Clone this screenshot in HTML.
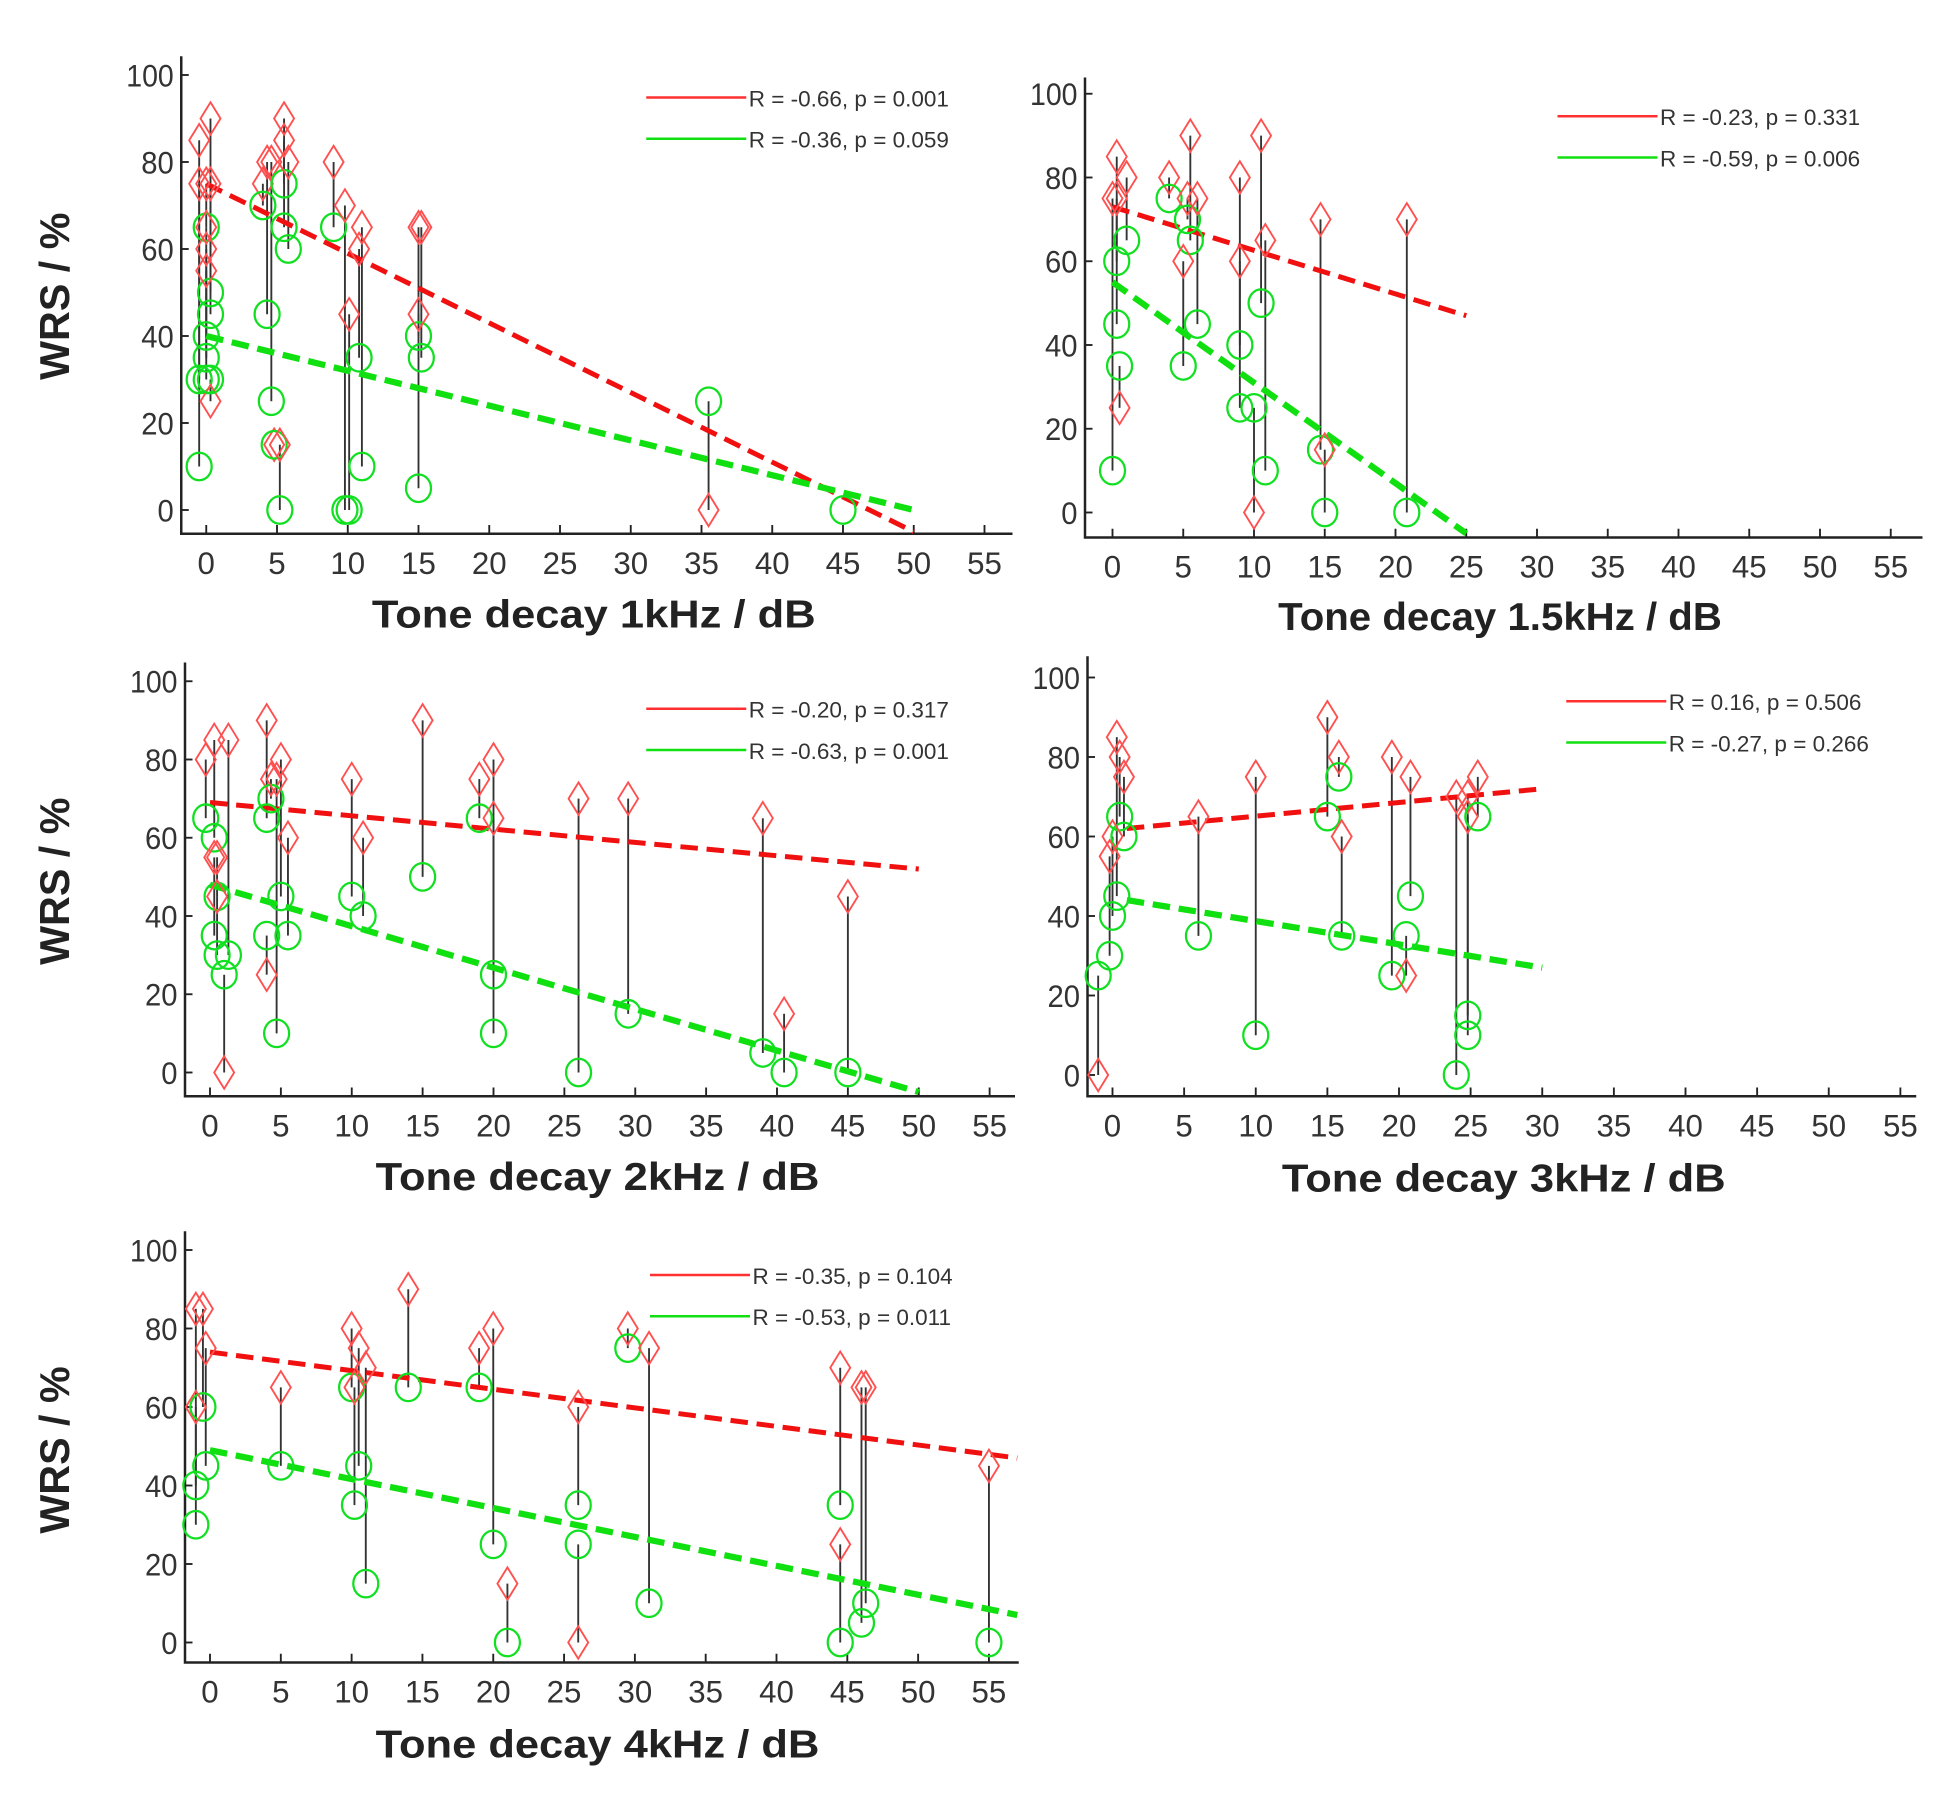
<!DOCTYPE html>
<html><head><meta charset="utf-8"><style>
html,body{margin:0;padding:0;background:#fff}
svg{display:block}
text{font-family:"Liberation Sans",sans-serif}
</style></head><body>
<svg id="chart" width="1960" height="1803" viewBox="0 0 1568 1442.4" xmlns="http://www.w3.org/2000/svg"></svg>
<script>
// ---- data ----
const titles = ["Tone decay 1kHz / dB","Tone decay 1.5kHz / dB","Tone decay 2kHz / dB","Tone decay 3kHz / dB","Tone decay 4kHz / dB"];
const legendRed = ["R = -0.66, p = 0.001","R = -0.23, p = 0.331","R = -0.20, p = 0.317","R = 0.16, p = 0.506","R = -0.35, p = 0.104"];
const legendGreen = ["R = -0.36, p = 0.059","R = -0.59, p = 0.006","R = -0.63, p = 0.001","R = -0.27, p = 0.266","R = -0.53, p = 0.011"];
const xTicks = [0,5,10,15,20,25,30,35,40,45,50,55];
const yTicks = [0,20,40,60,80,100];
// pairs: [tone decay dB, red (diamond) WRS, green (circle) WRS]
const data1k = [[-0.5,85,30],[-0.5,75,10],[0,75,65],[0.3,90,50],[0.3,75,45],[0,65,40],[0,60,35],[0,55,30],[0.3,25,30],[4,75,70],[4.3,80,45],[4.6,80,25],[5.5,90,75],[5.5,85,65],[5.8,80,60],[4.8,15,15],[5.2,15,0],[9,80,65],[9.8,70,0],[10.1,45,0],[10.8,60,35],[11,65,10],[15,65,40],[15.2,65,35],[15,45,5],[35.5,0,25],[45,null,0]];
const data15k = [[0,75,10],[0.3,85,60],[0.3,75,45],[0.5,25,35],[1,80,65],[4,80,75],[5.5,90,65],[5,60,35],[5.3,75,70],[6,75,45],[9,80,40],[9,60,25],[10.5,90,50],[10.8,65,10],[10,0,25],[14.7,70,15],[15,15,0],[20.8,70,0]];
const data2k = [[-0.3,80,65],[0.3,85,60],[0.5,55,45],[0.3,55,35],[0.5,45,30],[1.3,85,30],[1,0,25],[4,90,65],[4.3,75,70],[4,25,35],[5,80,45],[4.7,75,10],[5.5,60,35],[10,75,45],[10.8,60,40],[15,90,50],[19,75,65],[20,80,25],[20,65,10],[26,70,0],[29.5,70,15],[39,65,5],[40.5,15,0],[45,45,0]];
const data3k = [[-1,0,25],[0.3,85,45],[0.5,80,65],[0.8,75,60],[0,60,40],[-0.2,55,30],[6,65,35],[10,75,10],[15,90,65],[15.8,80,75],[16,60,35],[19.5,80,25],[20.8,75,45],[20.5,25,35],[24,70,0],[24.8,70,15],[24.8,65,10],[25.5,75,65]];
const data4k = [[-1,85,40],[-0.5,85,60],[-0.3,75,45],[-1,60,30],[5,65,45],[10,80,65],[10.5,75,45],[11,70,15],[10.2,65,35],[14,90,65],[19,75,65],[20,80,25],[21,15,0],[26,60,35],[26,0,25],[29.5,80,75],[31,75,10],[44.5,70,35],[44.5,25,0],[46,65,5],[46.3,65,10],[55,45,0]];
// regression lines: [xStart, yStart, xEnd, yEnd]
const fitRed = [[0,75,50,-5],[0,73,25,47],[0,69,50,52],[1,62,30,72],[0,74,57,47]];
const fitGreen = [[0,40,50,0],[0,55,25,-5],[0,48,50,-5],[1,44,30,27],[0,49,57,7]];
const allData = [data1k,data15k,data2k,data3k,data4k];

// ---- layout (not data) ----
const layout = [
 {x0:165,dx:11.32,y0:408,dy:3.48,left:145,right:810,top:45,bottom:427,tx:475,ty:502,yl:[55,237],lx:517,ly:78},
 {x0:890,dx:11.32,y0:410,dy:3.35,left:868,right:1538,top:62,bottom:430,tx:1200,ty:504,yl:null,lx:1246,ly:93},
 {x0:168,dx:11.34,y0:858,dy:3.13,left:148,right:812,top:530,bottom:877,tx:478,ty:952,yl:[55,705],lx:517,ly:567},
 {x0:890,dx:11.46,y0:860,dy:3.18,left:870,right:1533,top:525,bottom:877,tx:1203,ty:953,yl:null,lx:1253,ly:561},
 {x0:168,dx:11.33,y0:1314,dy:3.14,left:148,right:815,top:985,bottom:1330,tx:478,ty:1406,yl:[55,1160],lx:520,ly:1020}
];
const NS="http://www.w3.org/2000/svg";
const svg=document.getElementById('chart');
function mk(tag,attrs,parent){const e=document.createElementNS(NS,tag);for(const k in attrs)e.setAttribute(k,attrs[k]);(parent||svg).appendChild(e);return e;}

allData.forEach((pts,i)=>{
 const L=layout[i];
 const X=v=>L.x0+v*L.dx, Y=v=>L.y0-v*L.dy;
 const g=mk('g',{});
 
 
 const ax=mk('path',{d:`M${L.left},${L.top}V${L.bottom}H${L.right}`,fill:'none',stroke:'#222','stroke-width':2},g);
 
 
 yTicks.forEach(t=>{
  mk('line',{x1:L.left,x2:L.left+6,y1:Y(t),y2:Y(t),stroke:'#222','stroke-width':1.5},g);
  const tl=mk('text',{x:L.left-6,y:Y(t)+9,'text-anchor':'end','font-size':25,fill:'#333','textLength':t==100?38:(t==0?13:26),'lengthAdjust':'spacingAndGlyphs'},g);
  tl.textContent=t;
  
  
 });
 xTicks.forEach(t=>{
  if(X(t)>L.right)return;
  mk('line',{x1:X(t),x2:X(t),y1:L.bottom,y2:L.bottom-7,stroke:'#222','stroke-width':1.5},g);
  const tl=mk('text',{x:X(t),y:L.bottom+32,'text-anchor':'middle','font-size':25,fill:'#333'},g);
  tl.textContent=t;
  
  
 });
 const tt=mk('text',{x:L.tx,y:L.ty,'text-anchor':'middle','font-size':31,'font-weight':'bold',fill:'#222','textLength':355,'lengthAdjust':'spacingAndGlyphs'},g);
 tt.textContent=titles[i];
 
 
 if(L.yl){
  const yt=mk('text',{x:L.yl[0],y:L.yl[1],'text-anchor':'middle','font-size':33,'font-weight':'bold',fill:'#222',transform:`rotate(-90 ${L.yl[0]} ${L.yl[1]})`},g);
  yt.textContent='WRS / %';
  
  
 }
 pts.forEach(p=>{
  if(p[1]==null)return;
  const s=mk('line',{x1:X(p[0]),x2:X(p[0]),y1:Y(p[1]),y2:Y(p[2]),stroke:'#333','stroke-width':1.5},g);
  
  
 });
 const fr=fitRed[i], fg=fitGreen[i];
 const lr=mk('line',{x1:X(fr[0]),y1:Y(fr[1]),x2:X(fr[2]),y2:Y(fr[3]),stroke:'#f01010','stroke-width':4,'stroke-dasharray':'14 7'},g);
 
 
 const lg=mk('line',{x1:X(fg[0]),y1:Y(fg[1]),x2:X(fg[2]),y2:Y(fg[3]),stroke:'#10e010','stroke-width':5,'stroke-dasharray':'14 7'},g);
 
 
 pts.forEach(p=>{
  const cx=X(p[0]);
  if(p[1]!=null){
   const cy=Y(p[1]);
   const d=mk('path',{d:`M${cx},${cy-13}L${cx+8},${cy}L${cx},${cy+13}L${cx-8},${cy}Z`,fill:'none',stroke:'#ff5050','stroke-width':1.5},g);
   
   
  }
  const c=mk('ellipse',{cx:cx,cy:Y(p[2]),rx:10,ry:11,fill:'none',stroke:'#10e020','stroke-width':1.8},g);
  
  
 });
 const lgd=mk('g',{},g);
 
 
 mk('line',{x1:L.lx,x2:L.lx+80,y1:L.ly,y2:L.ly,stroke:'#ff3030','stroke-width':2},lgd);
 mk('line',{x1:L.lx,x2:L.lx+80,y1:L.ly+33,y2:L.ly+33,stroke:'#10e010','stroke-width':2},lgd);
 const t1=mk('text',{x:L.lx+82,y:L.ly+7,'font-size':18,fill:'#333'},lgd);
 t1.textContent=legendRed[i];
 
 
 const t2=mk('text',{x:L.lx+82,y:L.ly+40,'font-size':18,fill:'#333'},lgd);
 t2.textContent=legendGreen[i];
 
 
});
</script>
</body></html>
